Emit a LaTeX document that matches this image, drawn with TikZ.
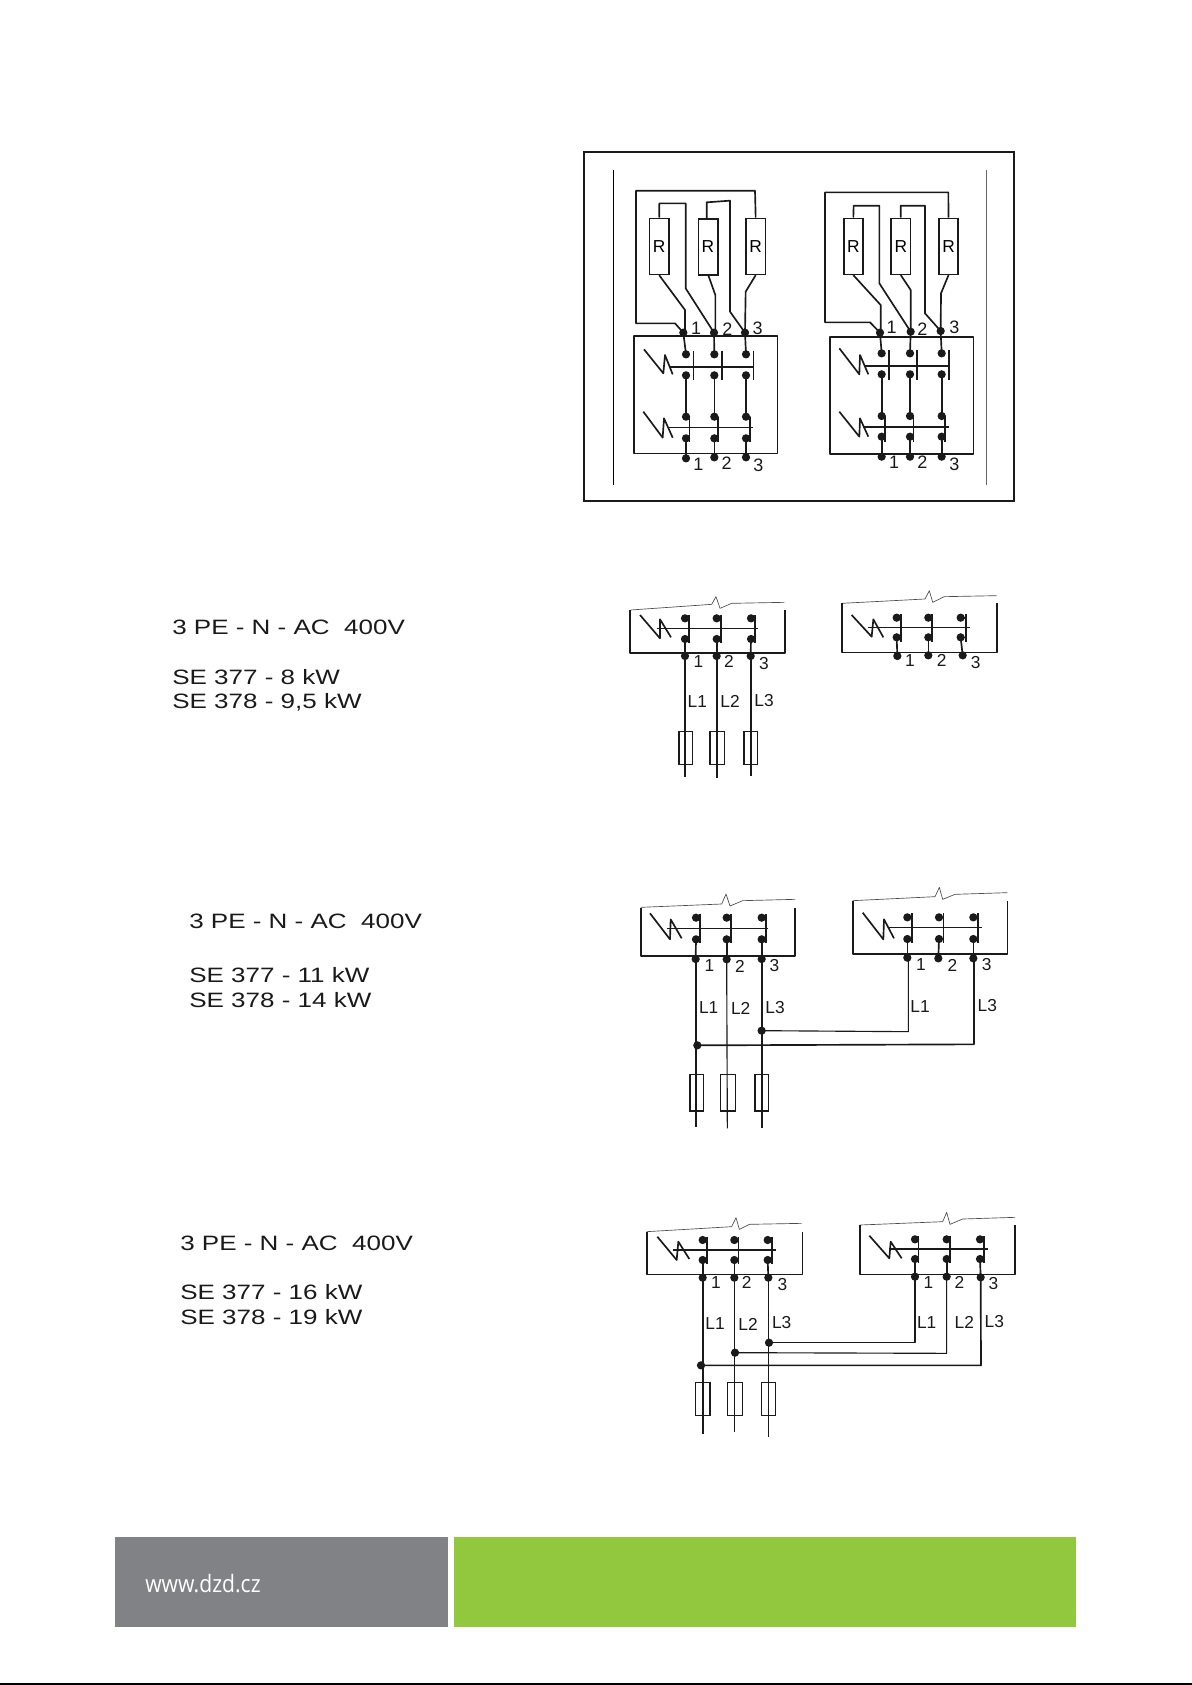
\documentclass[tikz,border=0pt]{standalone}
\usepackage{fontspec}
\usepackage{graphicx}
\setmainfont{Liberation Sans}
\newfontfamily\footfont{Open Sans}
\definecolor{ink}{HTML}{1A1A1A}
\definecolor{footgrey}{HTML}{808285}
\definecolor{footgreen}{HTML}{92C83E}
\tikzset{
  wire/.style={draw=ink,line width=1.25pt,line join=round},
  thinwire/.style={draw=ink,line width=.85pt,line join=round},
  coverline/.style={draw=black!70,line width=.5pt,line join=round},
  frameline/.style={draw=ink,line width=1.3pt},
  junc/.style={circle,fill=ink,inner sep=0pt,minimum size=6.2pt},
  resbox/.style={draw=ink,line width=1.25pt,fill=white,rectangle,inner sep=0pt,minimum width=14.5pt,minimum height=42pt,font=\fontsize{13}{13}\selectfont},
  fuse/.style={draw=ink,line width=1.05pt,rectangle,inner sep=0pt},
  numlabel/.style={inner sep=0pt,text=ink,font=\fontsize{13}{13}\selectfont},
  biglabel/.style={inner sep=0pt,text=ink,font=\fontsize{13.5}{13.5}\selectfont},
  spec/.style={anchor=base west,inner sep=0pt,text=ink,font=\fontsize{15.6}{15.6}\selectfont},
  zoomed/.style={shift={#1},x=.25pt,y=-.25pt}
}
\newcommand{\wide}[1]{\scalebox{1.25}[1]{#1}}
% id, dot x, top y, bottom y, bar x, bar top y, bar bottom y, terminal x, terminal y
\newcommand{\pole}[9]{%
  \node[junc] (#1t) at (#2,#3) {};
  \node[junc] (#1b) at (#2,#4) {};
  \node[junc] (#1o) at (#8,#9) {};
  \draw[wire] (#5,#6) -- (#5,#7);
  \draw[wire] (#1t.center) -- (#5,#3);
  \draw[wire] (#1b.center) -- (#5,#4);
  \draw[wire] (#1b.center) -- (#1o.center);
}
\newcommand{\bolt}[4]{\draw[wire] #1 -- #2 -- #3 -- #4;}
\begin{document}
\begin{tikzpicture}[x=.75pt,y=-.75pt]
\useasboundingbox (0,0) rectangle (1192,1685);
\fill[white] (0,0) rectangle (1192,1685);

% --- Panel 1
\begin{scope}[zoomed={(570,140)}]
\draw[frameline] (42,35) rectangle (1333,1083);
\draw[draw=black,line width=.8pt] (130,90) -- (130,1035);
\draw[draw=black!60,line width=.8pt] (1250,90) -- (1250,1035);
% left unit
\node[resbox] (Ra) at (267.5,319) {R};
\node[resbox] (Rb) at (414,320) {R};
\node[resbox] (Rc) at (557,319) {R};
\node[junc] (a1) at (340,578) {};
\node[junc] (a2) at (432,578) {};
\node[junc] (a3) at (525,578) {};
\draw[wire] (a1.center) -- (315,550) -- (198,550) -- (198,152) -- (555,152) -- (Rc.north);
\draw[wire] (Ra.north) -- (268,190) -- (347,190) -- (347,445) -- (a2.center);
\draw[wire] (410,237) -- (410,187) -- (480,182) -- (480,515) -- (a3.center);
\draw[wire] (Ra.south) -- (345,510) -- (345,578) -- (a1.center);
\draw[wire] (414,403) -- (436,465) -- (436,578) -- (a2.center);
\draw[wire] (Rc.south) -- (527,455) -- (a3.center);
\draw[wire] (192,588) rectangle (622,940);
\foreach \n/\x/\b/\bl/\e/\y in {a/348/370/358/340/955,b/433/455/443/432/952,c/528/550/540/525/952}{
  \node[junc] (\n u) at (\x,643) {};
  \node[junc] (\n v) at (\x,706) {};
  \node[junc] (\n w) at (\x,830) {};
  \node[junc] (\n x) at (\x,895) {};
  \node[junc] (\n y) at (\x,\y) {};
  \draw[wire] (\e,578) -- (\n u.center);
  \draw[wire] (\n v.center) -- (\n w.center);
  \draw[wire] (\n x.center) -- (\n y.center);
  \draw[wire] (\b,632) -- (\b,720);
  \draw[wire] (\n w.center) -- (\bl,830) -- (\bl,905) (\bl,895) -- (\n x.center);
}
\draw[wire] (300,680) -- (550,680);
\draw[wire] (296,862) -- (550,862);
\bolt{(222,628)}{(280,700)}{(285,645)}{(308,703)}
\bolt{(220,815)}{(278,893)}{(282,835)}{(308,893)}
\foreach \x/\y/\t in {378/565/1,472/568/2,563/565/3,385/972/1,470/970/2,565/975/3}{\node[biglabel] at (\x,\y) {\t};}
% right unit
\node[resbox] (Rd) at (850,319) {R};
\node[resbox] (Re) at (992.5,319) {R};
\node[resbox] (Rf) at (1135.5,319) {R};
\node[junc] (d1) at (930,578) {};
\node[junc] (d2) at (1022,575) {};
\node[junc] (d3) at (1112,573) {};
\draw[wire] (d1.center) -- (900,547) -- (765,547) -- (765,157) -- (1135,157) -- (Rf.north);
\draw[wire] (Rd.north) -- (851,197) -- (928,197) -- (928,430) -- (d2.center);
\draw[wire] (Re.north) -- (992,197) -- (1065,197) -- (1065,520) -- (d3.center);
\draw[wire] (Rd.south) -- (932,495) -- (932,578) -- (d1.center);
\draw[wire] (Re.south) -- (1022,450) -- (d2.center);
\draw[wire] (Rf.south) -- (1113,460) -- (d3.center);
\draw[wire] (780,590) rectangle (1210,942);
\foreach \n/\x/\b/\bl/\e in {d/935/957/945/d1,e/1020/1040/1030/d2,f/1115/1137/1125/d3}{
  \node[junc] (\n u) at (\x,640) {};
  \node[junc] (\n v) at (\x,703) {};
  \node[junc] (\n w) at (\x,828) {};
  \node[junc] (\n x) at (\x,890) {};
  \node[junc] (\n y) at (\x,950) {};
  \draw[wire] (\e.center) -- (\n u.center);
  \draw[wire] (\n v.center) -- (\n w.center);
  \draw[wire] (\n x.center) -- (\n y.center);
  \draw[wire] (\b,630) -- (\b,720);
  \draw[wire] (\n w.center) -- (\bl,828) -- (\bl,905) (\bl,890) -- (\n x.center);
}
\draw[wire] (885,677) -- (1137,677);
\draw[wire] (880,860) -- (1137,860);
\bolt{(808,625)}{(868,703)}{(870,645)}{(895,703)}
\bolt{(808,815)}{(868,890)}{(870,835)}{(895,890)}
\foreach \x/\y/\t in {965/562/1,1057/568/2,1153/562/3,972/968/1,1057/968/2,1153/972/3}{\node[biglabel] at (\x,\y) {\t};}
\end{scope}

% --- Panel 2
\begin{scope}[zoomed={(610,580)}]
\draw[coverline] (62,90) -- (305,73) -- (318,50) -- (330,85) -- (365,70) -- (523,67);
\draw[wire] (60,90) -- (60,218) -- (525,218) -- (525,90);
\pole{p}{225}{115}{177}{237}{105}{188}{225}{228}
\pole{q}{320}{115}{177}{332}{105}{188}{320}{228}
\pole{r}{423}{115}{177}{435}{105}{188}{422}{228}
\draw[wire] (140,145) -- (445,145);
\bolt{(90,105)}{(150,175)}{(150,118)}{(183,172)}
\coordinate (pe) at (225,590); \coordinate (qe) at (320,595); \coordinate (re) at (422,587);
\draw[wire] (po.center) -- (pe); \draw[wire] (qo.center) -- (qe); \draw[wire] (ro.center) -- (re);
\draw[fuse] (207,455) rectangle (248,553);
\draw[fuse] (300,455) rectangle (344,553);
\draw[fuse] (402,455) rectangle (443,553);
\foreach \x/\y/\t in {265/245/1,357/245/2,462/250/3,262/365/L1,360/365/L2,462/362/L3,900/242/1,995/240/2,1097/247/3}{\node[numlabel] at (\x,\y) {\t};}
\draw[coverline] (695,70) -- (945,57) -- (958,32) -- (968,67) -- (1003,50) -- (1160,47);
\draw[wire] (695,70) -- (695,217) -- (1160,217) -- (1160,70);
\pole{s}{860}{113}{172}{872}{103}{185}{862}{228}
\pole{t}{955}{113}{172}{965}{103}{185}{955}{226}
\pole{u}{1052}{113}{172}{1068}{103}{185}{1058}{226}
\draw[wire] (773,142) -- (1080,142);
\bolt{(725,105)}{(785,170)}{(790,118)}{(820,172)}
\end{scope}

% --- Panel 3
\begin{scope}[zoomed={(620,880)}]
\draw[coverline] (62,82) -- (305,72) -- (318,42) -- (330,78) -- (368,62) -- (525,58);
\draw[wire] (62,85) -- (62,228) -- (525,228) -- (525,85);
\pole{pa}{228}{113}{178}{240}{103}{190}{227}{237}
\pole{qa}{320}{113}{178}{332}{103}{190}{320}{238}
\pole{ra}{425}{113}{178}{437}{103}{190}{425}{237}
\draw[thinwire] (140,145) -- (445,145);
\bolt{(90,100)}{(150,178)}{(152,118)}{(185,175)}
\coordinate (pae) at (227,740); \coordinate (qae) at (322,745); \coordinate (rae) at (425,743);
\draw[wire] (pao.center) -- (pae); \draw[thinwire] (qao.center) -- (qae); \draw[wire] (rao.center) -- (rae);
\draw[fuse] (210,583) rectangle (250,693);
\draw[fuse] (302,583) rectangle (346,693);
\draw[fuse] (405,583) rectangle (445,693);
\foreach \x/\y/\t in {268/258/1,360/258/2,463/258/3,266/383/L1,362/385/L2,465/383/L3,903/253/1,997/255/2,1100/255/3,900/380/L1,1102/378/L3}{\node[numlabel] at (\x,\y) {\t};}
\draw[coverline] (698,62) -- (945,50) -- (958,22) -- (968,58) -- (1005,43) -- (1162,38);
\draw[wire] (698,62) -- (698,222) -- (1162,222) -- (1162,62);
\pole{sa}{862}{112}{177}{875}{100}{190}{862}{233}
\pole{ta}{957}{112}{177}{970}{100}{190}{955}{235}
\pole{ua}{1060}{112}{177}{1073}{100}{190}{1060}{235}
\draw[thinwire] (805,143) -- (1085,143);
\bolt{(728,98)}{(790,178)}{(792,118)}{(822,175)}
\node[junc] (ja) at (425,452) {};
\node[junc] (jb) at (232,496) {};
\draw[thinwire] (ja.center) -- (865,455) -- (865,233) -- (sao.center);
\draw[wire] (jb.center) -- (1062,493) -- (1062,235) -- (uao.center);
\end{scope}

% --- Panel 4
\begin{scope}[zoomed={(630,1205)}]
\draw[coverline] (50,80) -- (305,65) -- (318,38) -- (328,73) -- (358,58) -- (515,55);
\draw[wire] (50,80) -- (50,208) -- (517,208) -- (517,80);
\pole{pb}{218}{105}{165}{230}{95}{178}{218}{218}
\pole{qb}{313}{105}{165}{325}{95}{178}{313}{218}
\pole{rb}{413}{105}{165}{425}{95}{178}{415}{218}
\draw[wire] (130,135) -- (438,135);
\bolt{(82,95)}{(140,165)}{(145,110)}{(178,162)}
\coordinate (pbe) at (218,688); \coordinate (qbe) at (313,680); \coordinate (rbe) at (415,695);
\draw[wire] (pbo.center) -- (pbe); \draw[wire] (qbo.center) -- (qbe); \draw[thinwire] (rbo.center) -- (rbe);
\draw[fuse] (197,533) rectangle (240,632);
\draw[fuse] (293,533) rectangle (337,632);
\draw[fuse] (395,533) rectangle (437,632);
\foreach \x/\y/\t in {258/233/1,350/233/2,457/238/3,255/355/L1,354/357/L2,455/352/L3,895/232/1,988/232/2,1090/235/3,890/352/L1,1003/352/L2,1093/350/L3}{\node[numlabel] at (\x,\y) {\t};}
\draw[coverline] (690,60) -- (938,50) -- (950,22) -- (960,58) -- (998,42) -- (1155,37);
\draw[wire] (690,60) -- (690,208) -- (1155,208) -- (1155,60);
\pole{sb}{855}{103}{162}{865}{92}{175}{855}{215}
\pole{tb}{950}{103}{162}{960}{92}{175}{950}{215}
\pole{ub}{1050}{103}{162}{1062}{92}{175}{1052}{217}
\draw[wire] (778,132) -- (1073,132);
\bolt{(718,92)}{(778,160)}{(782,110)}{(815,160)}
\node[junc] (jc) at (417,413) {};
\node[junc] (jd) at (315,443) {};
\node[junc] (je) at (213,481) {};
\draw[thinwire] (jc.center) -- (855,413) -- (sbo.center);
\draw[thinwire] (jd.center) -- (950,445) -- (tbo.center);
\draw[wire] (je.center) -- (1053,481) -- (ubo.center);
\end{scope}

% --- Specification texts
\node[spec] (a1t) at (172,634) {\wide{3 PE - N - AC\ \ 400V}};
\node[spec] (a2t) at (172,684) {\wide{SE 377 - 8 kW}};
\node[spec] (a3t) at (172,708) {\wide{SE 378 - 9,5 kW}};
\node[spec] (b1t) at (189,928) {\wide{3 PE - N - AC\ \ 400V}};
\node[spec] (b2t) at (189,982) {\wide{SE 377 - 11 kW}};
\node[spec] (b3t) at (189,1007) {\wide{SE 378 - 14 kW}};
\node[spec] (c1t) at (180,1250) {\wide{3 PE - N - AC\ \ 400V}};
\node[spec] (c2t) at (180,1299) {\wide{SE 377 - 16 kW}};
\node[spec] (c3t) at (180,1324) {\wide{SE 378 - 19 kW}};

% --- Footer
\fill[footgrey] (115,1537) rectangle (448,1627);
\fill[footgreen] (454,1537) rectangle (1076,1627);
\node[anchor=west,inner sep=0pt,text=white,font=\footfont\fontsize{18}{18}\selectfont] (url) at (145,1584) {\scalebox{.88}[1]{www.dzd.cz}};
\draw[draw=black,line width=1.2pt] (0,1684) -- (1192,1684);
\end{tikzpicture}
\end{document}
